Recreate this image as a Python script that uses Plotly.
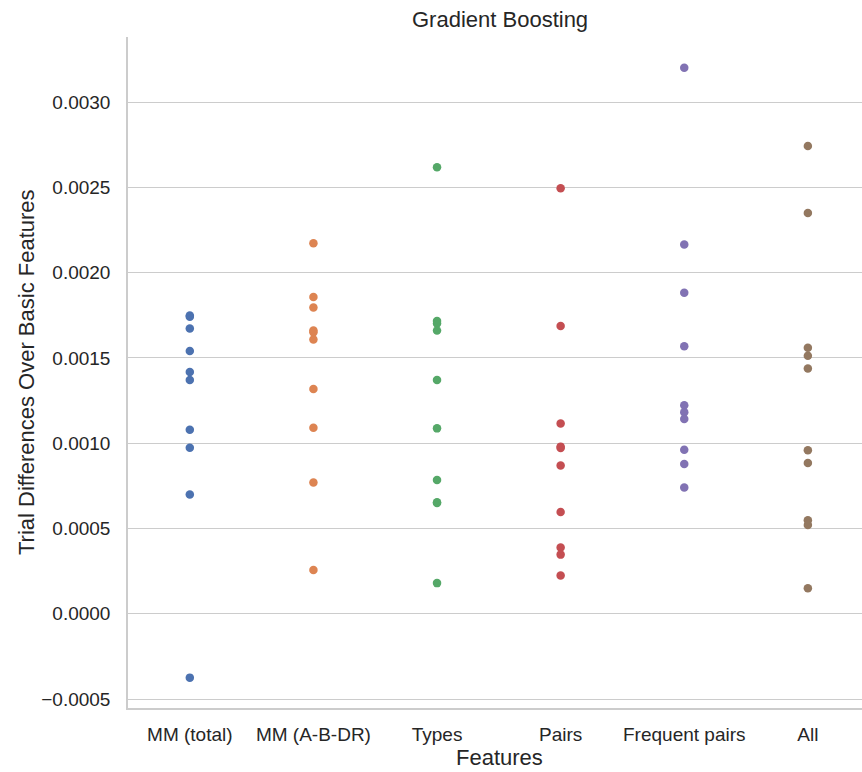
import plotly.graph_objects as go

categories = ["MM (total)", "MM (A-B-DR)", "Types", "Pairs", "Frequent pairs", "All"]

mm_total = [0.001749, 0.001742, 0.001673, 0.001540, 0.001418, 0.001371, 0.001079, 0.000974, 0.000699, -0.000374]
mm_abdr = [0.002172, 0.001857, 0.001796, 0.001660, 0.001650, 0.001608, 0.001318, 0.001091, 0.000770, 0.000257]
types = [0.002618, 0.001716, 0.001702, 0.001661, 0.001371, 0.001087, 0.000785, 0.000654, 0.000650, 0.000180]
pairs = [0.002495, 0.001687, 0.001115, 0.000980, 0.000972, 0.000869, 0.000597, 0.000389, 0.000347, 0.000225]
frequent_pairs = [0.003201, 0.002165, 0.001882, 0.001568, 0.001222, 0.001182, 0.001142, 0.000962, 0.000878, 0.000741]
all_features = [0.002742, 0.002350, 0.001559, 0.001513, 0.001438, 0.000959, 0.000884, 0.000548, 0.000521, 0.000150]

series = [mm_total, mm_abdr, types, pairs, frequent_pairs, all_features]
colors = ["#4C72B0", "#DD8452", "#55A868", "#C44E52", "#8172B3", "#937860"]

y_ticks = [-0.0005, 0.0, 0.0005, 0.0010, 0.0015, 0.0020, 0.0025, 0.0030]
y_tick_labels = ["\u22120.0005", "0.0000", "0.0005", "0.0010", "0.0015", "0.0020", "0.0025", "0.0030"]

FONT = "Arial, Liberation Sans, sans-serif"
TXT = "#262626"

fig = go.Figure()
for cat, vals, col in zip(categories, series, colors):
    fig.add_trace(go.Scatter(
        x=[cat] * len(vals), y=vals, mode="markers",
        marker=dict(color=col, size=8.5, line=dict(width=0)),
        showlegend=False, cliponaxis=False,
    ))

fig.update_layout(
    width=862, height=772,
    margin=dict(l=128, r=0, t=37, b=64),
    paper_bgcolor="white", plot_bgcolor="white",
    font=dict(family=FONT, color=TXT, size=19),
)
fig.update_xaxes(
    type="category", categoryorder="array", categoryarray=categories,
    range=[-0.5, 5.438], showgrid=False, zeroline=False,
    showline=True, linecolor="#cccccc", linewidth=1.5,
    ticks="outside", ticklen=8, tickcolor="rgba(0,0,0,0)",
    tickfont=dict(size=19, color=TXT, family=FONT),
)
fig.update_yaxes(
    range=[-0.000552, 0.003381],
    tickvals=y_ticks, ticktext=y_tick_labels,
    showgrid=True, gridcolor="#cccccc", gridwidth=1.3,
    zeroline=False,
    showline=True, linecolor="#cccccc", linewidth=1.5,
    ticks="outside", ticklen=12, tickcolor="rgba(0,0,0,0)",
    tickfont=dict(size=19, color=TXT, family=FONT),
)

fig.add_annotation(text="Gradient Boosting", xref="paper", yref="paper",
                   x=(500 - 128) / 734, y=1 + (37 - 19.5) / 671, showarrow=False,
                   xanchor="center", yanchor="middle",
                   font=dict(size=22, color=TXT, family=FONT))
fig.add_annotation(text="Features", xref="paper", yref="paper",
                   x=(499 - 128) / 734, y=-(757 - 708) / 671, showarrow=False,
                   xanchor="center", yanchor="middle",
                   font=dict(size=22, color=TXT, family=FONT))
fig.add_annotation(text="Trial Differences Over Basic Features", xref="paper", yref="paper",
                   x=(26 - 128) / 734, y=(708 - 372) / 671, showarrow=False, textangle=-90,
                   xanchor="center", yanchor="middle",
                   font=dict(size=22, color=TXT, family=FONT))

fig.write_html("out.html", config={"displayModeBar": False},
               post_script="document.body.style.margin='0px';document.body.style.overflow='hidden';")
